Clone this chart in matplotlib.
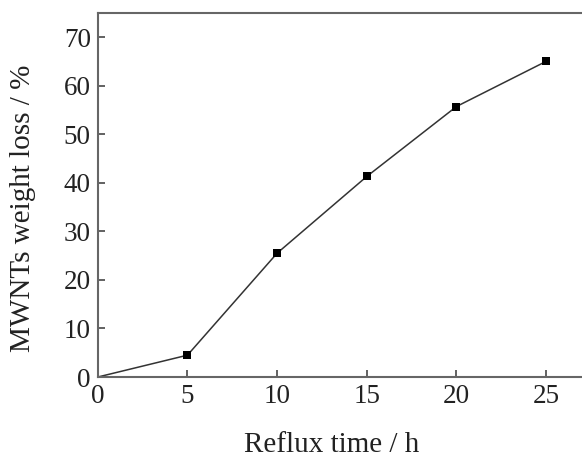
import matplotlib
matplotlib.use('Agg')
import matplotlib.pyplot as plt

plt.rcParams['font.family'] = ['Liberation Serif', 'DejaVu Serif']

# reflux time (h) vs weight loss (%)
hours = [0, 5, 10, 15, 20, 25]
loss = [0, 4.5, 25.5, 41.3, 55.7, 65.0]

fig = plt.figure(figsize=(5.82, 4.57), dpi=100)
ax = fig.add_axes([0.168, 0.175, 0.832, 0.797])

ax.plot(hours, loss, '-', color='#333333', lw=1.1, zorder=2)
ax.plot(hours[1:], loss[1:], 's', color='black', ms=5.8, mew=0, zorder=3)

ax.set_xlim(0, 27)
ax.set_ylim(0, 75)
ax.set_xticks([0, 5, 10, 15, 20, 25])
ax.set_yticks([0, 10, 20, 30, 40, 50, 60, 70])
ax.tick_params(direction='in', length=5, width=1.3, labelsize=19.5,
               colors='#555555', labelcolor='#222222', pad=5)
for s in ('left', 'bottom', 'top'):
    ax.spines[s].set_linewidth(1.5)
    ax.spines[s].set_color('#666666')
ax.spines['right'].set_visible(False)

ax.set_xlabel('Reflux time / h', fontsize=21, color='#222222')
ax.set_ylabel('MWNTs weight loss / %', fontsize=21, color='#222222')
ax.xaxis.set_label_coords(0.4835, -0.15)
ax.yaxis.set_label_coords(-0.128, 0.462)

fig.savefig('out.png', dpi=100)
